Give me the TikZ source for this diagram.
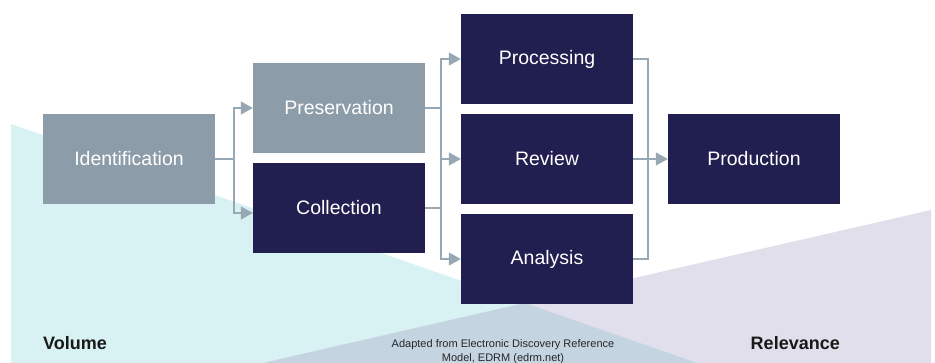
\documentclass[tikz,border=0pt]{standalone}
\usepackage{fontspec}
\setmainfont{Liberation Sans}
\usetikzlibrary{arrows.meta}

\definecolor{stepgray}{HTML}{8D9CA9}
\definecolor{stepnavy}{HTML}{211F4F}
\definecolor{linkgray}{HTML}{98A7B4}
\definecolor{volumebg}{HTML}{D8F1F3}
\definecolor{relevbg}{HTML}{E2DFEC}
\definecolor{overlapbg}{HTML}{C4D4E1}

\begin{document}
\begin{tikzpicture}[x=1pt, y=-1pt, line cap=butt, line join=miter,
  stage/.style={minimum width=172pt, minimum height=90pt, inner sep=0pt,
    text=white, font=\fontsize{19.5}{22}\selectfont},
  light/.style={stage, fill=stepgray},
  dark/.style={stage, fill=stepnavy},
  link/.style={draw=linkgray, line width=1.5pt},
  flow/.style={link, -{Triangle[length=12pt, width=13pt]}}]

  \useasboundingbox (0,0) rectangle (935,363);

  % Background wedges
  \fill[volumebg] (11,124) -- (697,363) -- (11,363) -- cycle;
  \fill[relevbg] (931,210) -- (931,363) -- (263,363) -- cycle;
  \begin{scope}
    \clip (11,124) -- (697,363) -- (11,363) -- cycle;
    \fill[overlapbg] (931,210) -- (931,363) -- (263,363) -- cycle;
  \end{scope}

  % Stages
  \node[light] (ident) at (129,159) {Identification};
  \node[light] (pres)  at (339,108) {Preservation};
  \node[dark]  (coll)  at (339,208) {Collection};
  \node[dark]  (proc)  at (547,59)  {Processing};
  \node[dark]  (rev)   at (547,159) {Review};
  \node[dark]  (anal)  at (547,259) {Analysis};
  \node[dark]  (prod)  at (754,159) {Production};

  % Connectors
  \draw[link] (ident.east) -- ++(19,0) coordinate (fork1);
  \draw[flow] (fork1) |- (pres.west);
  \draw[flow] (fork1) |- ([yshift=-5pt]coll.west);

  \draw[link] (pres.east) -- ++(16,0) coordinate (fork2);
  \draw[link] (coll.east) -| (fork2);
  \foreach \n in {proc,rev,anal}
    \draw[flow] (fork2) |- (\n.west);

  \draw[link] (proc.east) -- ++(15,0) coordinate (fork3) |- (anal.east);
  \draw[flow] (rev.east) -- (prod.west);

  % Labels
  \node[anchor=base west, inner sep=0pt, font=\fontsize{18}{20}\selectfont\bfseries,
    text=black!90] (vol) at (43,350) {Volume};
  \node[anchor=base east, inner sep=0pt, font=\fontsize{18}{20}\selectfont\bfseries,
    text=black!90] (relev) at (840,350) {Relevance};
  \node[anchor=north, inner sep=0pt, align=center, text=black!85,
    font=\fontsize{11}{13.5}\selectfont] (src) at (503,339.5)
    {Adapted from Electronic Discovery Reference\\Model, EDRM (edrm.net)};
\end{tikzpicture}
\end{document}
